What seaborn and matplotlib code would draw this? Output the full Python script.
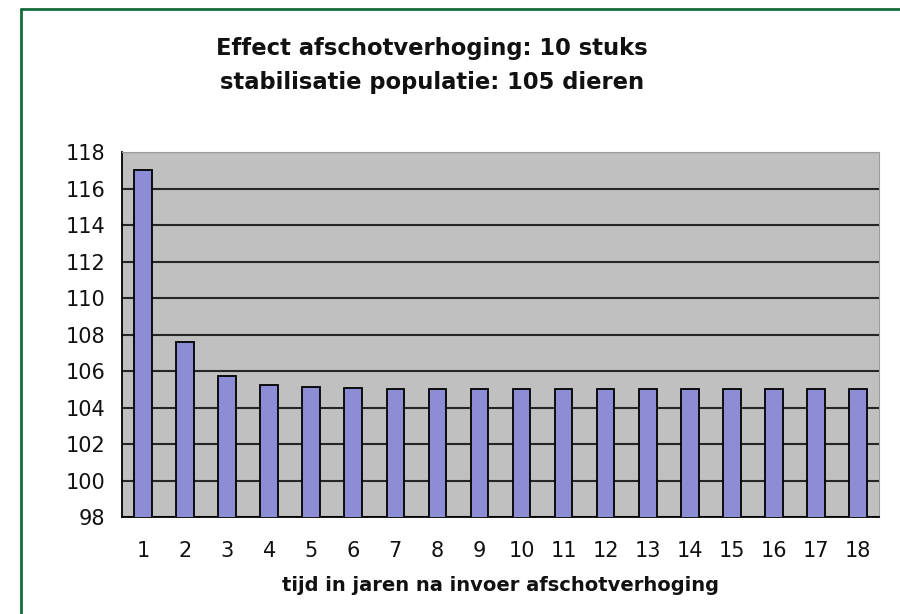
import matplotlib
matplotlib.use("Agg")
import matplotlib.pyplot as plt
import seaborn as sns
import pandas as pd
from matplotlib.lines import Line2D

# ---- data ----
years = [str(i) for i in range(1, 19)]
population = [117.0, 107.6, 105.7, 105.25, 105.1, 105.05, 105.0, 105.0, 105.0,
              105.0, 105.0, 105.0, 105.0, 105.0, 105.0, 105.0, 105.0, 105.0]
y_ticks = [98, 100, 102, 104, 106, 108, 110, 112, 114, 116, 118]
title_lines = ["Effect afschotverhoging: 10 stuks", "stabilisatie populatie: 105 dieren"]
x_label = "tijd in jaren na invoer afschotverhoging"

df = pd.DataFrame({"jaar": years, "populatie": population})

sns.set_style("white")
plt.rcParams["font.family"] = ["DejaVu Sans"]

fig = plt.figure(figsize=(9.0, 6.14), dpi=100)
ax = fig.add_axes([122 / 900, 1 - 517 / 614, (879 - 122) / 900, (517 - 152) / 614])

sns.barplot(data=df, x="jaar", y="populatie", color="#8C8DD4", saturation=1,
            edgecolor="black", linewidth=1.3, width=0.42, ax=ax, zorder=3)

ax.set_facecolor("#C0C0C0")
ax.set_ylim(98, 118)
ax.set_xlim(-0.5, len(years) - 0.5)
ax.set_yticks(y_ticks)
ax.set_yticklabels([str(t) for t in y_ticks], fontsize=15, color="#111111")
ax.set_xticks(range(len(years)))
ax.set_xticklabels(years, fontsize=15, color="#111111")
ax.set_xticks([i - 0.5 for i in range(len(years) + 1)], minor=True)
ax.tick_params(axis="x", which="major", length=0, pad=17)
ax.tick_params(axis="x", which="minor", length=6, width=1.2, color="black", direction="out")
ax.tick_params(axis="y", which="major", length=8, width=1.2, color="black", direction="out", pad=4)

ax.yaxis.grid(True, color="#262626", linewidth=1.5)
ax.xaxis.grid(False)
ax.set_axisbelow(True)

for side in ["left", "bottom"]:
    ax.spines[side].set_color("black")
    ax.spines[side].set_linewidth(1.3)
for side in ["top", "right"]:
    ax.spines[side].set_color("#9c9c9c")
    ax.spines[side].set_linewidth(0.8)

ax.set_ylabel("")
ax.set_xlabel(x_label, fontsize=14, fontweight="bold", color="#111111", labelpad=11)

fig.text(432 / 900, 1 - 48 / 614, title_lines[0], ha="center", va="center",
         fontsize=16.3, fontweight="bold", color="#111111")
fig.text(432 / 900, 1 - 83 / 614, title_lines[1], ha="center", va="center",
         fontsize=16.3, fontweight="bold", color="#111111")

# green frame
green = "#136B3C"
fig.add_artist(Line2D([21 / 900, 21 / 900], [0, 1 - 9 / 614], transform=fig.transFigure,
                      color=green, linewidth=2.0))
fig.add_artist(Line2D([21 / 900, 1], [1 - 9 / 614, 1 - 9 / 614], transform=fig.transFigure,
                      color=green, linewidth=2.0))

fig.savefig("out.png", dpi=100)
